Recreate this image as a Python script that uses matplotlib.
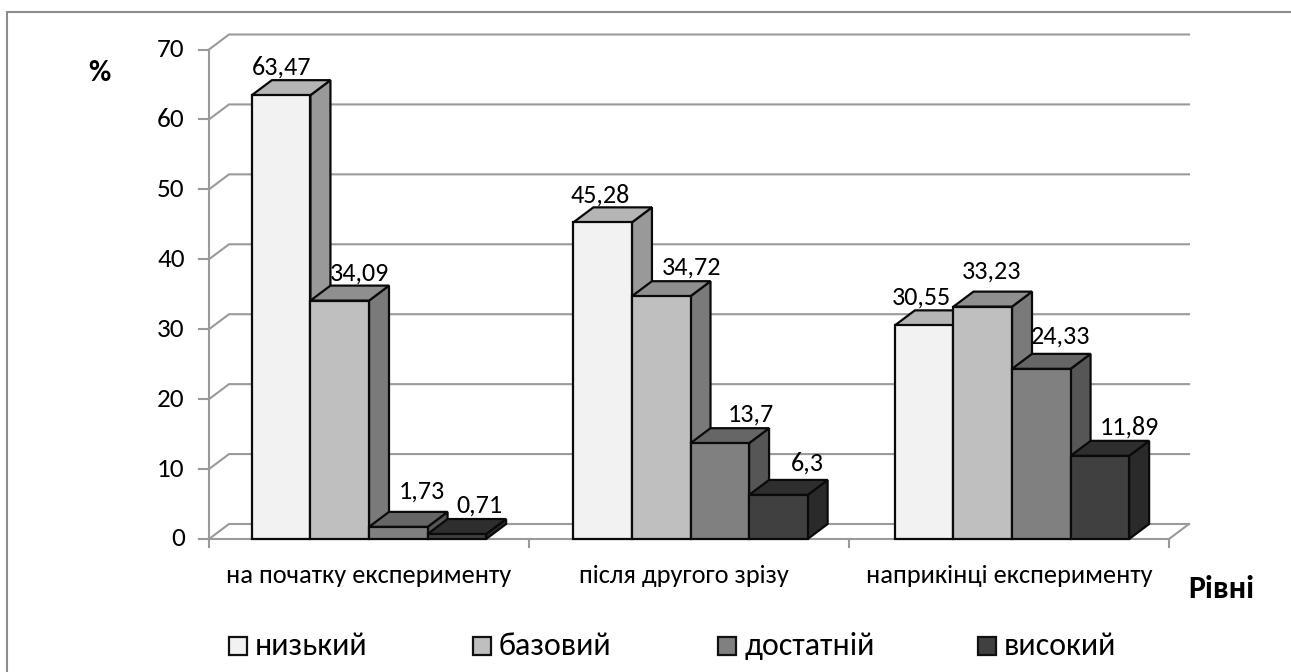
import matplotlib
matplotlib.use("Agg")
import matplotlib.pyplot as plt
from matplotlib.lines import Line2D
from matplotlib.patches import Polygon, Rectangle
from matplotlib.transforms import IdentityTransform

W, H = 1291, 672
plt.rcParams["font.family"] = ["Carlito", "Lato", "Noto Sans", "DejaVu Sans"]

categories = ["на початку експерименту", "після другого зрізу", "наприкінці експерименту"]
levels = ["низький", "базовий", "достатній", "високий"]
low = [63.47, 45.28, 30.55]
base = [34.09, 34.72, 33.23]
sufficient = [1.73, 13.7, 24.33]
high = [0.71, 6.3, 11.89]
yticks = [0, 10, 20, 30, 40, 50, 60, 70]

series = [low, base, sufficient, high]
# front, top and side shades for each level
shades = [
    ("#f2f2f2", "#b5b5b5", "#999999"),
    ("#bfbfbf", "#8f8f8f", "#7a7a7a"),
    ("#808080", "#666666", "#565656"),
    ("#404040", "#2e2e2e", "#2a2a2a"),
]
# value labels dodge each other, pixel shift from bar centre / back top edge
label_shift = [
    [(0, 13), (-2, 12), (-3, 13)],
    [(20, 13), (30, 14), (9, 21)],
    [(24, 21), (31, 14), (19, 18)],
    [(23, 14), (29, 17), (30, 14)],
]
category_x = [0.5, 1.485, 2.5]

GAP = 0.134
STEP = 1.0047
BAR_W = 0.183
# oblique depth of the pseudo 3D box, in data units
DX = 20 / 320
DY = 15 / 6.99

fig = plt.figure(figsize=(W / 100, H / 100), dpi=100)
ax = fig.add_axes([209 / W, 1 - 539 / H, 960 / W, 489.5 / H])
ax.set_xlim(0, 3)
ax.set_ylim(0, 70)
ax.axis("off")

# chart frame only shows on the left and top
fig.add_artist(Line2D([7, 7, W], [0, H - 12, H - 12], transform=IdentityTransform(),
                      color="#8c8c8c", linewidth=1.5, solid_joinstyle="miter"))

grid_c = "#9a9a9a"
for y in yticks:
    ax.plot([0, DX, 3 + DX], [y, y + DY, y + DY], color=grid_c, lw=1.5, clip_on=False, zorder=1,
            solid_joinstyle="miter")
    ax.plot([-0.03, 0], [y, y], color=grid_c, lw=1.5, clip_on=False, zorder=1)
    ax.text(-0.076, y, str(y), ha="right", va="center", fontsize=19.5, color="black")
ax.plot([0, 0], [0, 70], color=grid_c, lw=1.5, clip_on=False, zorder=1)
ax.plot([0, 3, 3 + DX], [0, 0, DY], color=grid_c, lw=1.5, clip_on=False, zorder=1)
for i in range(4):
    ax.plot([i, i], [0, -1.2], color=grid_c, lw=1.5, clip_on=False, zorder=1)

for i, cat in enumerate(categories):
    ax.text(category_x[i], -5.2, cat, ha="center", va="center", fontsize=19, color="black")
    for j, vals in enumerate(series):
        v = vals[i]
        x0 = i * STEP + GAP + j * BAR_W
        x1 = x0 + BAR_W
        front, top, side = shades[j]
        z = 3 + j
        ax.add_patch(Polygon([(x1, 0), (x1 + DX, DY), (x1 + DX, v + DY), (x1, v)], closed=True,
                             facecolor=side, edgecolor="#0a0a0a", lw=1.6, zorder=z, clip_on=False))
        ax.add_patch(Polygon([(x0, v), (x0 + DX, v + DY), (x1 + DX, v + DY), (x1, v)], closed=True,
                             facecolor=top, edgecolor="#0a0a0a", lw=1.6, zorder=z, clip_on=False))
        ax.add_patch(Rectangle((x0, 0), BAR_W, v, facecolor=front, edgecolor="#0a0a0a", lw=1.6,
                               zorder=z, clip_on=False))
        label = f"{v:g}".replace(".", ",")
        ax.annotate(label, (x0 + BAR_W / 2, v + DY), xytext=label_shift[j][i], textcoords="offset pixels",
                    ha="center", va="center", fontsize=18.8, color="black", zorder=10)

fig.text(99 / W, 1 - 73 / H, "%", ha="center", va="center", fontsize=22, fontweight="bold", color="black")
fig.text(1221 / W, 1 - 589 / H, "Рівні", ha="center", va="center", fontsize=23, fontweight="bold", color="black")

# legend row laid out by hand, the entries are not evenly spaced
legend_x = [229, 473, 718, 978]
for x, name, (front, _, _) in zip(legend_x, levels, shades):
    fig.add_artist(Rectangle((x, H - 655), 18, 18, transform=IdentityTransform(), facecolor=front,
                             edgecolor="#111111", linewidth=1.6))
    fig.text((x + 26) / W, 1 - 646 / H, name, ha="left", va="center", fontsize=23, color="black")

fig.savefig("out.png", dpi=100)
